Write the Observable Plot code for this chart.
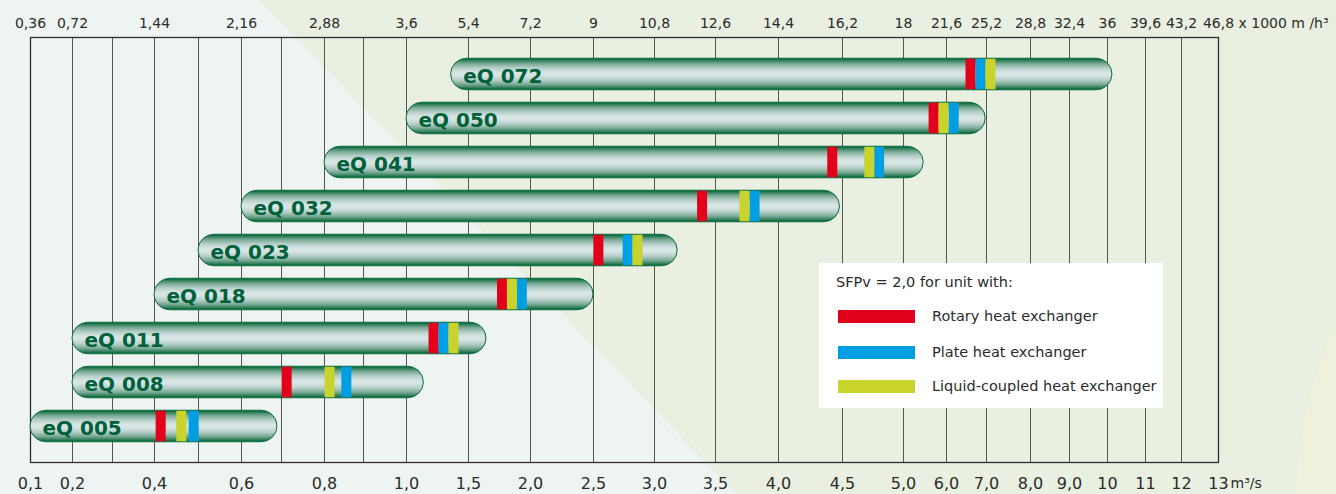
<!DOCTYPE html>
<html>
<head>
<meta charset="utf-8">
<script src="https://cdn.jsdelivr.net/npm/d3@7"></script>
<script src="https://cdn.jsdelivr.net/npm/@observablehq/plot@0.6"></script>
<style>
  html, body { margin: 0; padding: 0; }
  body {
    width: 1336px; height: 494px; overflow: hidden;
    background:
      radial-gradient(circle at 1700px 500px, #eef2dc 0 403px, rgba(238,242,220,0) 404px),
      linear-gradient(46deg, #eef4f2 40.6%, #e9f0e1 40.6%);
    font-family: "DejaVu Sans", sans-serif;
  }
  #wrap { position: relative; width: 1336px; height: 494px; }
  #legend {
    position: absolute; left: 819px; top: 263px; width: 344px; height: 145px;
    background: #ffffff; color: #2b2b2b; font-size: 14.5px;
  }
  #legend .title { position: absolute; left: 17px; top: 11px; white-space: nowrap; }
  #legend .sw { position: absolute; left: 19px; width: 77px; height: 13px; }
  #legend .lab { position: absolute; left: 113px; white-space: nowrap; line-height: 17px; }
</style>
</head>
<body>
<div id="wrap"></div>
<script>
// ---------- data ----------
const models   = ["eQ 072","eQ 050","eQ 041","eQ 032","eQ 023","eQ 018","eQ 011","eQ 008","eQ 005"];
const flowMin  = [1.36, 1.0, 0.8, 0.6, 0.5, 0.4, 0.2, 0.2, 0.1];          // m3/s
const flowMax  = [10.13, 6.98, 5.47, 4.48, 3.19, 2.5, 1.645, 1.14, 0.69];  // m3/s
const rotary   = [6.6, 5.70, 4.42, 3.39, 2.54, 1.77, 1.218, 0.712, 0.414];
const plate    = [6.85, 6.18, 4.80, 3.81, 2.78, 1.93, 1.298, 0.856, 0.489];
const liquid   = [7.09, 5.93, 4.72, 3.73, 2.86, 1.85, 1.379, 0.813, 0.461];

const seriesNames  = ["Rotary heat exchanger", "Plate heat exchanger", "Liquid-coupled heat exchanger"];
const seriesColors = ["#e3001b", "#009fe3", "#c8d32b"];
const legendTitle  = "SFPv = 2,0 for unit with:";

const gridValues   = [0.1,0.2,0.3,0.4,0.5,0.6,0.7,0.8,0.9,1.0,1.5,2.0,2.5,3.0,3.5,4.0,4.5,5.0,6,7,8,9,10,11,12,13];
const tickValues   = [0.1,0.2,0.4,0.6,0.8,1.0,1.5,2.0,2.5,3.0,3.5,4.0,4.5,5.0,6,7,8,9,10,11,12,13];
const bottomLabels = ["0,1","0,2","0,4","0,6","0,8","1,0","1,5","2,0","2,5","3,0","3,5","4,0","4,5","5,0","6,0","7,0","8,0","9,0","10","11","12","13"];
const topLabels    = ["0,36","0,72","1,44","2,16","2,88","3,6","5,4","7,2","9","10,8","12,6","14,4","16,2","18","21,6","25,2","28,8","32,4","36","39,6","43,2","46,8"];
const topUnit      = "x 1000 m /h³";
const bottomUnit   = "m³/s";

// ---------- build tables ----------
const bars = models.map((m, i) => ({model: m, min: flowMin[i], max: flowMax[i]}));
const stripes = [];
models.forEach((m, i) => {
  stripes.push({model: m, v: rotary[i], s: seriesNames[0]});
  stripes.push({model: m, v: plate[i],  s: seriesNames[1]});
  stripes.push({model: m, v: liquid[i], s: seriesNames[2]});
});
const bottomMap = new Map(tickValues.map((v, i) => [v, bottomLabels[i]]));
const topMap    = new Map(tickValues.map((v, i) => [v, topLabels[i]]));

// piecewise (non-uniform) horizontal scale of the grid
const gridPx = [30,72,112,154,198,241,281,324,363,406,468,530,593,654,715,778,842,903,946,986,1030,1069,1107,1145,1181,1218];

const svg = Plot.plot({
  width: 1336,
  height: 494,
  marginLeft: 30, marginRight: 118, marginTop: 37, marginBottom: 32,
  style: {background: "transparent", fontFamily: "DejaVu Sans, sans-serif", color: "#2b2b2b", overflow: "visible"},
  x: {type: "linear", domain: gridValues, range: gridPx, label: null},
  y: {type: "band", domain: models, padding: 0, insetTop: 12.75, insetBottom: 11.75, axis: null},
  color: {domain: seriesNames, range: seriesColors},
  marks: [
    Plot.ruleX(gridValues, {stroke: "#555", strokeWidth: 1}),
    Plot.frame({stroke: "#2f2f2f", strokeWidth: 1.3}),
    Plot.axisX({anchor: "bottom", ticks: tickValues, tickFormat: d => bottomMap.get(d), tickSize: 0, tickPadding: 15, fontSize: 16, label: null}),
    Plot.axisX({anchor: "top", ticks: tickValues, tickFormat: d => topMap.get(d), tickSize: 0, tickPadding: 10, fontSize: 14, label: null}),
    Plot.text([{v: 13, t: topUnit}], {x: "v", text: "t", frameAnchor: "top", lineAnchor: "bottom", textAnchor: "start", dx: 20, dy: -10, fontSize: 14, fill: "#2b2b2b"}),
    Plot.text([{v: 13, t: bottomUnit}], {x: "v", text: "t", frameAnchor: "bottom", lineAnchor: "top", textAnchor: "start", dx: 12, dy: 16, fontSize: 14, fill: "#2b2b2b"}),
    Plot.barX(bars, {x1: "min", x2: "max", y: "model", rx: 16, insetTop: 6.25, insetBottom: 6.25,
      fill: "url(#barGrad)", stroke: "#0a6a3c", strokeWidth: 1}),
    Plot.tickX(stripes, {x: "v", y: "model", stroke: "s", strokeWidth: 10, insetTop: 6.75, insetBottom: 6.75}),
    Plot.text(bars, {x: "min", y: "model", text: "model", textAnchor: "start", dx: 12, dy: 2,
      fontSize: 20, fontWeight: "bold", fill: "#00603a", fontFamily: "DejaVu Sans, sans-serif"})
  ]
});

// gradient definition for the pill-shaped bars
const defs = d3.select(svg).insert("defs", ":first-child");
const g = defs.append("linearGradient").attr("id", "barGrad").attr("x1", 0).attr("y1", 0).attr("x2", 0).attr("y2", 1);
[[0, "#00663a"], [0.05, "#1f774d"], [0.15, "#6ea28b"], [0.3, "#b3cdc6"], [0.45, "#d6e4e4"], [0.55, "#d6e4e4"],
 [0.7, "#b3cdc6"], [0.85, "#6ea28b"], [0.95, "#1f774d"], [1, "#00663a"]]
  .forEach(([o, c]) => g.append("stop").attr("offset", o).attr("stop-color", c));

const wrap = document.getElementById("wrap");
wrap.appendChild(svg);

// legend box (inside the chart area)
const leg = d3.select(wrap).append("div").attr("id", "legend");
leg.append("div").attr("class", "title").text(legendTitle);
const rowTops = [47, 83, 117];
seriesNames.forEach((n, i) => {
  leg.append("div").attr("class", "sw").style("top", rowTops[i] + "px").style("background", seriesColors[i]);
  leg.append("div").attr("class", "lab").style("top", (rowTops[i] - 2) + "px").text(n);
});
</script>
</body>
</html>
